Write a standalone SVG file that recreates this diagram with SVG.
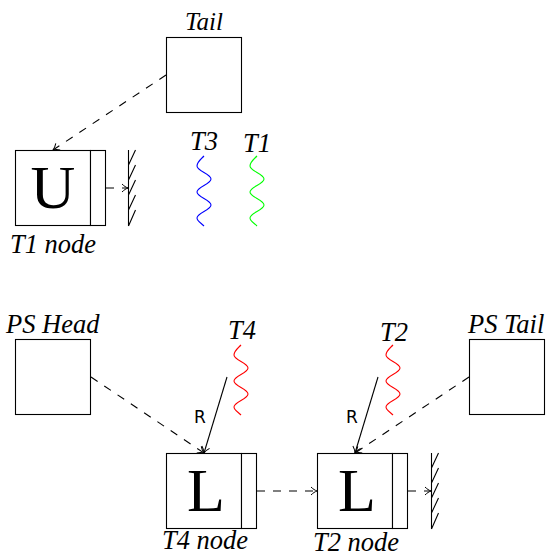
<svg xmlns="http://www.w3.org/2000/svg" width="546" height="557" viewBox="0 0 546 557">
<defs>
<marker id="arr" markerUnits="userSpaceOnUse" markerWidth="10" markerHeight="12" refX="7" refY="5" orient="auto" overflow="visible"><path d="M1 1C3 3 5 4.300 7 5C5 5.700 3 7 1 9" fill="none" stroke="#000" stroke-width="1"/></marker>
<path id="wave" d="M0 0C-3 3-7 6-7 10C-7 15 7 18 7 23C7 28-7 31-7 36C-7 41 7 44 7 49C7 54-7 57-7 62C-7 65-3 67 0 70" fill="none" stroke-width="1.100"/>
<path id="hatch" d="M0 0V76M0 15L7 0M0 30L7 15M0 45L7 30M0 60L7 45M0 76L7 60" fill="none" stroke="#000" stroke-width="1.100"/>
</defs>
<style>
.box{fill:#fff;stroke:#000;stroke-width:1.100}
.d{fill:none;stroke:#000;stroke-width:1.100;stroke-dasharray:8 8;marker-end:url(#arr)}
.s{fill:none;stroke:#000;stroke-width:1.100;marker-end:url(#arr)}
.t{font-family:"Liberation Serif",serif;font-style:italic;font-size:26.500px;fill:#000}
.big{font-family:"Liberation Serif",serif;font-size:62px;fill:#000;text-anchor:middle}
.r{font-family:"DejaVu Sans",sans-serif;font-size:17px;fill:#000}
</style>
<g id="connectors">
<path class="d" d="M166 75L53 150"/>
<path class="d" d="M106 188H128"/>
<path class="d" d="M91 377L204 453"/>
<path class="s" d="M227 377L204 453"/>
<path class="d" d="M257 491H317"/>
<path class="s" d="M378 377L355 453"/>
<path class="d" d="M469 377L355 453"/>
<path class="d" d="M408 491H431"/>
</g>
<g id="tail"><rect class="box" x="166.500" y="37.500" width="75" height="75"/><text class="t" x="185" y="30" style="font-size:25px">Tail</text></g>
<g id="t1node"><rect class="box" x="15.500" y="150.500" width="75" height="75"/><rect class="box" x="90.500" y="150.500" width="15" height="75"/><text class="big" x="53" y="208">U</text><text class="t" x="10" y="253">T1 node</text></g>
<g id="wall1"><use href="#hatch" x="128.500" y="150"/></g>
<g id="t3"><use href="#wave" x="204" y="156" stroke="#0000ff"/><text class="t" x="190" y="150">T3</text></g>
<g id="t1"><use href="#wave" x="257" y="156" stroke="#00ff00"/><text class="t" x="243" y="152">T1</text></g>
<g id="pshead"><rect class="box" x="15.500" y="339.500" width="75" height="75"/><text class="t" x="6" y="333">PS Head</text></g>
<g id="t4"><use href="#wave" x="241" y="345" stroke="#ff0000"/><text class="t" x="228" y="339">T4</text></g>
<text class="r" x="194" y="423">R</text>
<g id="t4node"><rect class="box" x="166.500" y="453.500" width="75" height="75"/><rect class="box" x="241.500" y="453.500" width="15" height="75"/><text class="big" x="206" y="511">L</text><text class="t" x="162" y="549">T4 node</text></g>
<g id="t2"><use href="#wave" x="393" y="345" stroke="#ff0000"/><text class="t" x="380" y="341">T2</text></g>
<text class="r" x="346" y="423">R</text>
<g id="t2node"><rect class="box" x="317.500" y="453.500" width="75" height="75"/><rect class="box" x="392.500" y="453.500" width="15" height="75"/><text class="big" x="357" y="511">L</text><text class="t" x="313" y="551">T2 node</text></g>
<g id="wall2"><use href="#hatch" x="431.500" y="453"/></g>
<g id="pstail"><rect class="box" x="469.500" y="339.500" width="75" height="75"/><text class="t" x="468" y="333">PS Tail</text></g>
</svg>
